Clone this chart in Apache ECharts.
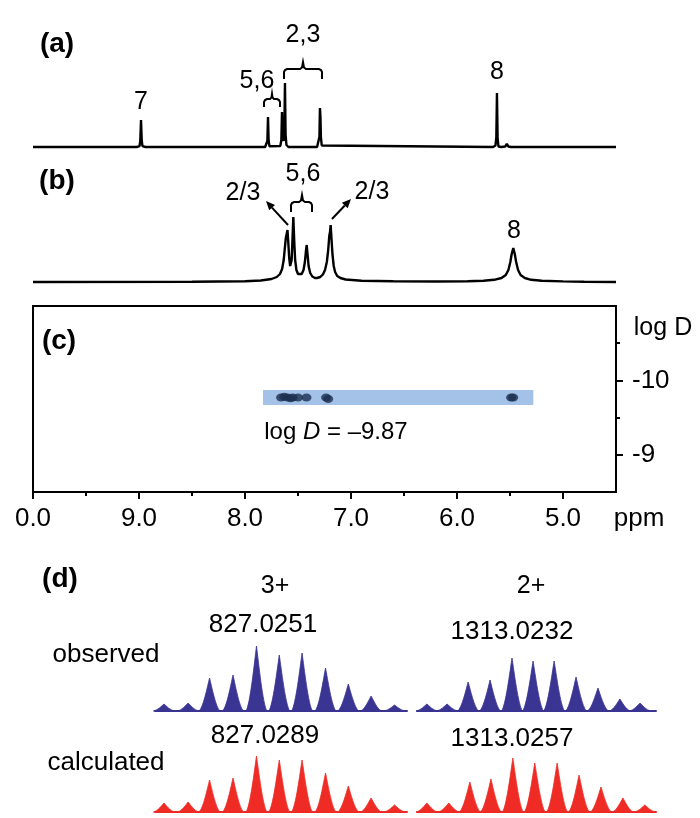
<!DOCTYPE html>
<html><head><meta charset="utf-8">
<script src="https://cdn.jsdelivr.net/npm/echarts@6/dist/echarts.min.js"></script>
<style>html,body{margin:0;padding:0;background:#fff}#c{width:700px;height:818px}</style>
</head><body><div id="c"></div>
<script>
// ---------- data ----------
// (a) 1H NMR spectrum: [ppm, intensity]
const specA = [
  [10.0,0],[9.02,0],[8.995,0.8],[8.988,6],[8.981,27],[8.974,6],[8.967,0.8],[8.94,0],
  [7.81,0],[7.797,0.8],[7.789,6],[7.783,30],[7.777,6],[7.769,0.8],
  [7.667,1],[7.657,7],[7.651,35],[7.645,9],[7.636,6],[7.629,14],[7.623,64],[7.617,12],[7.609,2],[7.59,0],
  [7.32,0],[7.305,1.5],[7.298,10],[7.293,39],[7.288,30],[7.284,10],[7.276,1.5],[7.26,0],
  [5.66,0],[5.637,1.5],[5.629,10],[5.623,54],[5.617,9],[5.609,0.5],[5.598,-1],[5.584,0],
  [5.545,0.5],[5.53,3],[5.515,0.5],[5.49,0],[4.5,0]
];
// (b) 1H NMR spectrum: [ppm, intensity]
const specB = [
  [10.0,0],[8.5,0.3],[8.0,0.8],[7.85,1.5],[7.75,3],[7.70,5],[7.67,8],[7.65,13],[7.635,22],
  [7.625,33],[7.615,44],[7.607,42],[7.599,52],[7.592,40],[7.583,24],[7.574,16],[7.568,15],
  [7.560,22],[7.553,40],[7.544,65],[7.536,42],[7.527,22],[7.515,12],[7.50,8],[7.485,7],
  [7.465,8],[7.448,12],[7.435,20],[7.426,30],[7.418,37],[7.41,28],[7.40,16],[7.385,9],
  [7.365,5.5],[7.34,4],[7.32,4],[7.29,5],[7.265,7.5],[7.245,12],[7.228,20],[7.215,32],
  [7.205,46],[7.198,50],[7.192,57],[7.185,45],[7.175,28],[7.163,16],[7.15,10],[7.13,6],
  [7.10,4],[7.05,2.5],[6.9,1.3],[6.6,0.7],[6.2,0.5],[5.9,0.7],[5.75,1.2],[5.65,2.2],
  [5.58,4],[5.54,7],[5.515,12],[5.497,20],[5.484,28],[5.469,34],[5.455,28],[5.442,20],
  [5.424,12],[5.40,7],[5.36,4],[5.3,2.2],[5.2,1.2],[5.0,0.6],[4.8,0.3],[4.5,0]
];
// (c) DOSY
const dosyPpm  = [7.66, 7.63, 7.60, 7.57, 7.55, 7.50, 7.42, 7.235, 7.215, 5.49, 5.47];
const dosyLogD = [-9.77, -9.78, -9.77, -9.76, -9.77, -9.77, -9.77, -9.77, -9.75, -9.77, -9.77];
const dosyBand = [7.83, 5.28, -9.87, -9.67];
const ppmTickValues = [10, 9, 8, 7, 6, 5];
const ppmTickLabels = ['0.0', '9.0', '8.0', '7.0', '6.0', '5.0'];
const ppmMinorTicks = [9.5, 8.5, 7.5, 6.5, 5.5];
const logDTickValues = [-10, -9];
const logDTickLabels = ['-10', '-9'];
const logDMinorTicks = [-10.5, -9.5];
// (d) ESI-MS isotope patterns
const ms3Mz     = [825.69, 826.04, 826.35, 826.69, 827.03, 827.36, 827.69, 828.03, 828.36, 828.69, 829.03];
const ms3Obs    = [7, 8, 33, 36, 65, 56, 58, 43, 27, 15, 6];
const ms3Calc   = [9, 10, 32, 34, 56, 52, 52, 39, 26, 14, 7];
const ms2ObsMz  = [1311.04, 1311.51, 1312.0, 1312.51, 1313.02, 1313.51, 1314.0, 1314.51, 1315.02, 1315.53, 1316.0];
const ms2Obs    = [7, 7, 29, 31, 53, 50, 50, 34, 23, 12, 8];
const ms2CalcMz = [1311.04, 1311.55, 1312.04, 1312.53, 1313.04, 1313.55, 1314.07, 1314.58, 1315.09, 1315.6, 1316.11];
const ms2Calc   = [9, 9, 30, 33, 54, 49, 49, 37, 25, 14, 7];

// ---------- chart ----------
const FONT = '"Liberation Sans", Arial, Helvetica, sans-serif';
const BLUE = '#3a3492', RED = '#ee2b24';
const chart = echarts.init(document.getElementById('c'));

const zip = (a, b) => a.map((v, i) => [v, b[i]]);

function peakRenderer(halfW, color) {
  return function (params, api) {
    const c = api.value(0), h = api.value(1);
    const p0 = api.coord([c - halfW, 0]);
    const pt = api.coord([c, h]);
    const p1 = api.coord([c + halfW, 0]);
    const dx = pt[0] - p0[0], H = p0[1] - pt[1];
    const d = 'M' + p0[0] + ',' + p0[1] +
      ' C' + (p0[0] + 0.4 * dx) + ',' + (p0[1] - 0.1 * H) + ' ' + (pt[0] - 0.2 * dx) + ',' + (pt[1] + 0.25 * H) + ' ' + pt[0] + ',' + pt[1] +
      ' C' + (pt[0] + 0.2 * dx) + ',' + (pt[1] + 0.25 * H) + ' ' + (p1[0] - 0.4 * dx) + ',' + (p1[1] - 0.1 * H) + ' ' + p1[0] + ',' + p1[1] + ' Z';
    return { type: 'path', shape: { pathData: d }, style: { fill: color, stroke: color, lineWidth: 0.8 } };
  };
}

function T(x, y, text, size, bold) {
  return { type: 'text', x: x, y: y, z: 20,
    style: { text: text, fill: '#000', fontSize: size, fontFamily: FONT, fontWeight: bold ? 'bold' : 'normal',
      align: 'center', verticalAlign: 'middle' } };
}
function PL(pts) {
  return { type: 'polyline', z: 20, shape: { points: pts }, style: { stroke: '#000', lineWidth: 2, fill: null } };
}
function L(x1, y1, x2, y2) {
  return { type: 'line', z: 20, shape: { x1: x1, y1: y1, x2: x2, y2: y2 }, style: { stroke: '#000', lineWidth: 2 } };
}
function G(pts) {
  return { type: 'polygon', z: 20, shape: { points: pts }, style: { fill: '#000' } };
}

const ppmAxisBase = { type: 'value', min: 4.5, max: 10, inverse: true };
const hiddenX = (gi) => Object.assign({ gridIndex: gi, show: false }, ppmAxisBase);
const msX = (gi, min, max, color) => ({
  type: 'value', gridIndex: gi, min: min, max: max,
  axisLine: { show: true, onZero: true, lineStyle: { color: color, width: 2 } },
  axisTick: { show: false }, axisLabel: { show: false }, splitLine: { show: false }
});
const hiddenY = (gi, min, max) => ({ type: 'value', gridIndex: gi, min: min, max: max, show: false, splitLine: { show: false } });

const option = {
  animation: false,
  backgroundColor: '#fff',
  grid: [
    { left: 33, top: 47, width: 583, height: 102 },   // 0 (a)
    { left: 33, top: 182, width: 583, height: 102 },  // 1 (b)
    { left: 33, top: 306, width: 583, height: 186, show: true, borderColor: '#000', borderWidth: 2 }, // 2 (c)
    { left: 155, top: 641, width: 252, height: 70 },  // 3 obs 3+
    { left: 155, top: 742, width: 252, height: 70 },  // 4 calc 3+
    { left: 417, top: 641, width: 239, height: 70 },  // 5 obs 2+
    { left: 417, top: 742, width: 239, height: 70 }   // 6 calc 2+
  ],
  xAxis: [
    hiddenX(0),
    hiddenX(1),
    Object.assign({ gridIndex: 2, position: 'bottom',
      axisLine: { show: true, onZero: false, lineStyle: { color: '#000', width: 2 } },
      axisTick: { show: true, length: 7, lineStyle: { color: '#000', width: 2 }, customValues: ppmTickValues },
      axisLabel: { show: true, customValues: ppmTickValues, margin: 14, color: '#000', fontSize: 26, fontFamily: FONT,
        formatter: (v) => { const i = ppmTickValues.findIndex(t => Math.abs(t - v) < 1e-6); return i >= 0 ? ppmTickLabels[i] : ''; } },
      splitLine: { show: false } }, ppmAxisBase),
    Object.assign({ gridIndex: 2, position: 'bottom',
      axisLine: { show: false, onZero: false },
      axisTick: { show: true, length: 4, lineStyle: { color: '#000', width: 2 }, customValues: ppmMinorTicks },
      axisLabel: { show: false }, splitLine: { show: false } }, ppmAxisBase),
    msX(3, 825.56, 829.21, BLUE),
    msX(4, 825.56, 829.21, RED),
    msX(5, 1310.81, 1316.37, BLUE),
    msX(6, 1310.81, 1316.37, RED)
  ],
  yAxis: [
    hiddenY(0, -2, 100),
    hiddenY(1, -2, 100),
    { type: 'value', gridIndex: 2, position: 'right', inverse: true, min: -11, max: -8.5,
      axisLine: { show: true, onZero: false, lineStyle: { color: '#000', width: 2 } },
      axisTick: { show: true, length: 7, lineStyle: { color: '#000', width: 2 }, customValues: logDTickValues },
      axisLabel: { show: true, customValues: logDTickValues, margin: 16, color: '#000', fontSize: 26, fontFamily: FONT,
        formatter: (v) => { const i = logDTickValues.findIndex(t => Math.abs(t - v) < 1e-6); return i >= 0 ? logDTickLabels[i] : ''; } },
      splitLine: { show: false } },
    { type: 'value', gridIndex: 2, position: 'right', inverse: true, min: -11, max: -8.5,
      axisLine: { show: false, onZero: false },
      axisTick: { show: true, length: 4, lineStyle: { color: '#000', width: 2 }, customValues: logDMinorTicks },
      axisLabel: { show: false }, splitLine: { show: false } },
    hiddenY(3, 0, 70),
    hiddenY(4, 0, 70),
    hiddenY(5, 0, 70),
    hiddenY(6, 0, 70)
  ],
  series: [
    { type: 'line', xAxisIndex: 0, yAxisIndex: 0, data: specA, showSymbol: false, symbol: 'none',
      lineStyle: { color: '#000', width: 2.4 }, z: 5 },
    { type: 'line', xAxisIndex: 1, yAxisIndex: 1, data: specB, showSymbol: false, symbol: 'none',
      lineStyle: { color: '#000', width: 2.4 }, z: 5 },
    { type: 'custom', xAxisIndex: 2, yAxisIndex: 2, data: [dosyBand], encode: { x: [0, 1], y: [2, 3] }, z: 1,
      renderItem: (params, api) => {
        const a = api.coord([api.value(0), api.value(2)]);
        const b = api.coord([api.value(1), api.value(3)]);
        return { type: 'rect', shape: { x: Math.min(a[0], b[0]), y: Math.min(a[1], b[1]), width: Math.abs(b[0] - a[0]), height: Math.abs(b[1] - a[1]) },
          style: { fill: '#a4c2e8' } };
      } },
    { type: 'scatter', xAxisIndex: 2, yAxisIndex: 2, data: zip(dosyPpm, dosyLogD), symbol: 'circle', symbolSize: [10, 8],
      itemStyle: { color: '#1c3050' }, z: 4 },
    { type: 'custom', xAxisIndex: 4, yAxisIndex: 4, data: zip(ms3Mz, ms3Obs), renderItem: peakRenderer(0.152, BLUE), z: 3 },
    { type: 'custom', xAxisIndex: 5, yAxisIndex: 5, data: zip(ms3Mz, ms3Calc), renderItem: peakRenderer(0.152, RED), z: 3 },
    { type: 'custom', xAxisIndex: 6, yAxisIndex: 6, data: zip(ms2ObsMz, ms2Obs), renderItem: peakRenderer(0.244, BLUE), z: 3 },
    { type: 'custom', xAxisIndex: 7, yAxisIndex: 7, data: zip(ms2CalcMz, ms2Calc), renderItem: peakRenderer(0.244, RED), z: 3 }
  ],
  graphic: [
    // panel letters
    T(57, 44, '(a)', 28, true),
    T(57, 181, '(b)', 28, true),
    T(59, 341, '(c)', 28, true),
    T(60, 579, '(d)', 28, true),
    // (a) labels
    T(141, 102, '7', 25),
    T(257, 81, '5,6', 25),
    T(303, 35, '2,3', 25),
    T(497, 72, '8', 25),
    PL([[264,107],[264,102],[265,100],[267,99],[270,99],[271.5,97.5],[272,94],[272.5,97.5],[274,99],[277,99],[279,100],[280,102],[280,107]]),
    PL([[284,79],[284,72],[285,70],[287,69],[300,69],[302,67.5],[303,62],[304,67.5],[306,69],[319,69],[321,70],[322,72],[322,79]]),
    // (b) labels
    T(243, 193, '2/3', 25),
    T(303, 174, '5,6', 25),
    T(372, 192, '2/3', 25),
    T(514, 231, '8', 25),
    PL([[291,212],[291,205],[292,203],[294,202],[299,202],[301,200.5],[302,195],[303,200.5],[305,202],[309,202],[311,203],[312,205],[312,212]]),
    L(288, 225, 272, 207.6),
    G([[266, 201], [275, 204.9], [269.2, 210.3]]),
    L(332, 219, 344.8, 205.5),
    G([[351, 199], [347.7, 208.3], [341.9, 202.8]]),
    // (c) labels
    { type: 'text', x: 336, y: 432, z: 20,
      style: { text: '{n|log }{i|D}{n| = –9.87}', align: 'center', verticalAlign: 'middle', fill: '#000',
        fontSize: 24, fontFamily: FONT,
        rich: { n: { fontSize: 24, fontFamily: FONT, fill: '#000' }, i: { fontSize: 24, fontFamily: FONT, fontStyle: 'italic', fill: '#000' } } } },
    T(663, 328, 'log D', 25),
    T(639, 519, 'ppm', 26),
    // (d) labels
    T(275, 586, '3+', 25),
    T(531, 586, '2+', 25),
    T(263, 625, '827.0251', 26),
    T(512, 632, '1313.0232', 26),
    T(106, 655, 'observed', 26),
    T(265, 736, '827.0289', 26),
    T(512, 739, '1313.0257', 26),
    T(106, 763, 'calculated', 26)
  ]
};
chart.setOption(option);
</script></body></html>
